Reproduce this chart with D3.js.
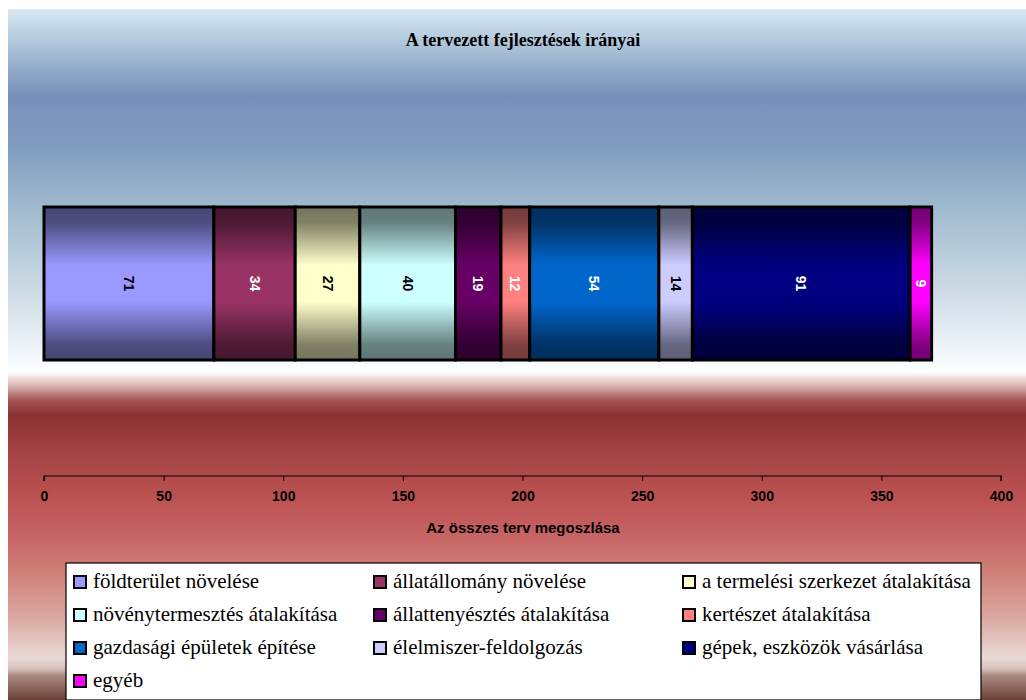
<!DOCTYPE html>
<html><head><meta charset="utf-8">
<script src="https://cdn.jsdelivr.net/npm/d3@7"></script>
<style>html,body{margin:0;padding:0;background:#fff;}svg{display:block;}</style>
</head><body>
<script>
const categories = ["földterület növelése","állatállomány növelése","a termelési szerkezet átalakítása","növénytermesztés átalakítása","állattenyésztés átalakítása","kertészet átalakítása","gazdasági épületek építése","élelmiszer-feldolgozás","gépek, eszközök vásárlása","egyéb"];
const values = [71,34,27,40,19,12,54,14,91,9];
const colors = ["#9999ff","#993366","#ffffcc","#ccffff","#660066","#ff8080","#0066cc","#ccccff","#000080","#ff00ff"];
const labelColors = ["#000","#fff","#000","#000","#fff","#fff","#fff","#000","#fff","#fff"];
const xTicks = [0,50,100,150,200,250,300,350,400];
const title = "A tervezett fejlesztések irányai";
const xTitle = "Az összes terv megoszlása";

const W = 1026, H = 700;
const svg = d3.select("body").append("svg").attr("width", W).attr("height", H);
const defs = svg.append("defs");

// background gradient
const bgStops = [
  [9,"#dae8f4"],[40,"#b2c9dd"],[95,"#7890b9"],[150,"#7f9dc0"],[200,"#9bb6cc"],
  [260,"#bccfdc"],[310,"#d8e3ec"],[355,"#f2f7fb"],[372,"#ffffff"],[386,"#d9b3b1"],
  [400,"#a45555"],[415,"#8b3232"],[455,"#a64444"],[500,"#bd5252"],[540,"#c86767"],
  [575,"#d08279"],[620,"#dcaaa4"],[658,"#e9d9d5"],[668,"#d8c4bd"],[676,"#a88880"],[700,"#6c4038"]
];
const bg = defs.append("linearGradient").attr("id","bg").attr("x1",0).attr("y1",0).attr("x2",0).attr("y2",1);
bgStops.forEach(s => bg.append("stop").attr("offset", ((s[0]-9)/(700-9))).attr("stop-color", s[1]));
svg.append("rect").attr("x",8).attr("y",9).attr("width",W-8).attr("height",H-9).attr("fill","url(#bg)");

// title
svg.append("text").attr("x",523).attr("y",46).attr("text-anchor","middle")
  .attr("font-family","'Liberation Serif','Times New Roman',serif").attr("font-weight","bold")
  .attr("font-size",18).text(title);

// scales
const x = d3.scaleLinear().domain([0,400]).range([44,1001]);
const barTop = 207, barBottom = 360;

// bar gradients
colors.forEach((c,i) => {
  const g = defs.append("linearGradient").attr("id","g"+i).attr("x1",0).attr("y1",0).attr("x2",0).attr("y2",1);
  const base = d3.rgb(c);
  const dk = k => d3.rgb(base.r*k, base.g*k, base.b*k).formatHex();
  [[0,dk(0.46)],[0.1,dk(0.5)],[0.38,c],[0.62,c],[0.9,dk(0.5)],[1,dk(0.46)]]
    .forEach(s => g.append("stop").attr("offset",s[0]).attr("stop-color",s[1]));
});

const starts = d3.cumsum([0, ...values]).slice(0, values.length);
const segs = values.map((v,i) => ({v, i, s: starts[i], e: starts[i]+v}));

const gBars = svg.append("g");
gBars.selectAll("rect").data(segs).join("rect")
  .attr("x", d => x(d.s)).attr("y", barTop)
  .attr("width", d => x(d.e)-x(d.s)).attr("height", barBottom-barTop)
  .attr("fill", d => "url(#g"+d.i+")")
  .attr("stroke","#000").attr("stroke-width",3);

gBars.selectAll("text").data(segs).join("text")
  .attr("transform", d => `translate(${(x(d.s)+x(d.e))/2},${(barTop+barBottom)/2}) rotate(90)`)
  .attr("text-anchor","middle").attr("dy","0.35em")
  .attr("font-family","'Liberation Sans',Arial,sans-serif").attr("font-weight","bold").attr("font-size",14)
  .attr("fill", d => labelColors[d.i]).text(d => d.v);

// axis
const axis = d3.axisBottom(x).tickValues(xTicks).tickSize(5).tickPadding(10).tickFormat(d3.format("d"));
const gAxis = svg.append("g").attr("transform","translate(0,476)").call(axis);
gAxis.select(".domain").attr("stroke","#000").attr("stroke-width",1.2).attr("d", `M${x(0)},5V0H${x(400)}V5`);
gAxis.selectAll(".tick line").attr("stroke","#000");
gAxis.selectAll(".tick text").attr("font-family","'Liberation Sans',Arial,sans-serif")
  .attr("font-weight","bold").attr("font-size",14).attr("fill","#000");

svg.append("text").attr("x",523).attr("y",533).attr("text-anchor","middle")
  .attr("font-family","'Liberation Sans',Arial,sans-serif").attr("font-weight","bold")
  .attr("font-size",15).text(xTitle);

// legend
svg.append("rect").attr("x",66).attr("y",563).attr("width",915).attr("height",137)
  .attr("fill","#fff").attr("stroke","#000").attr("stroke-width",1.2);
const colX = [73, 373, 682];
const rowY = [588, 621, 654, 687];
const leg = svg.append("g").selectAll("g").data(categories).join("g")
  .attr("transform",(d,i) => `translate(${colX[i%3]},${rowY[Math.floor(i/3)]})`);
leg.append("rect").attr("x",1).attr("y",-12).attr("width",12).attr("height",12)
  .attr("fill",(d,i)=>colors[i]).attr("stroke","#000").attr("stroke-width",2);
leg.append("text").attr("x",20).attr("y",0)
  .attr("font-family","'Liberation Serif','Times New Roman',serif").attr("font-size",21)
  .attr("fill","#000").text(d=>d);
</script>
</body></html>
